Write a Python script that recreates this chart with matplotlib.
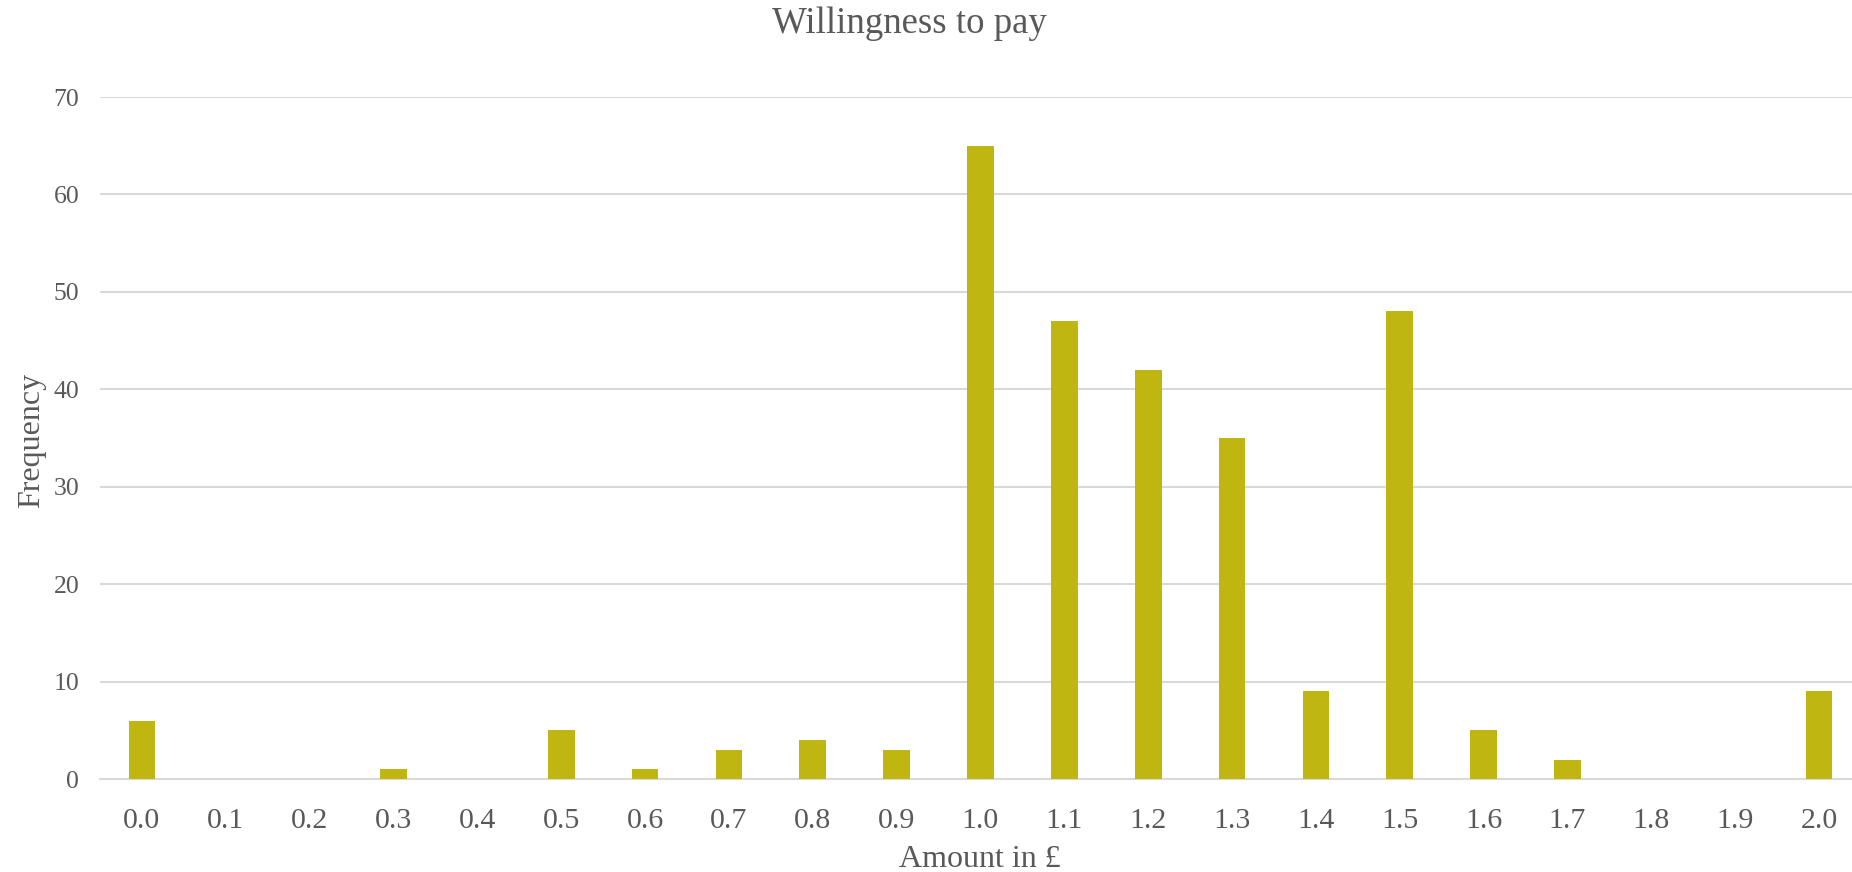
import numpy as np
import matplotlib.pyplot as plt

# Willingness to pay - frequency per amount in pounds
amounts = ['0.0', '0.1', '0.2', '0.3', '0.4', '0.5', '0.6', '0.7', '0.8', '0.9', '1.0',
           '1.1', '1.2', '1.3', '1.4', '1.5', '1.6', '1.7', '1.8', '1.9', '2.0']
frequency = [6, 0, 0, 1, 0, 5, 1, 3, 4, 3, 65, 47, 42, 35, 9, 48, 5, 2, 0, 0, 9]

txt = '#595959'
plt.rcParams['font.family'] = ['Liberation Serif', 'DejaVu Serif']

W, H = 1852, 872
fig = plt.figure(figsize=(W/100, H/100), dpi=100)
ax = fig.add_axes([100/W, (H-779)/H, 1761/W, (779-97)/H])

x = np.arange(len(amounts))
ax.bar(x, frequency, width=0.32, color='#BFB611', zorder=3)

ax.set_xlim(-0.5, len(amounts) - 0.5)
ax.set_ylim(0, 70)
ax.set_yticks(range(0, 71, 10))
ax.set_xticks(x)
ax.set_xticklabels(amounts)
ax.yaxis.grid(True, color='#D9D9D9', linewidth=1.5, zorder=0)
for s in ['top', 'right', 'left']:
    ax.spines[s].set_visible(False)
ax.spines['bottom'].set_color('#D9D9D9')
ax.spines['bottom'].set_linewidth(1.5)
ax.tick_params(axis='both', length=0, colors=txt)
ax.tick_params(axis='x', labelsize=21.5, pad=21)
ax.tick_params(axis='y', labelsize=18.5, pad=15)

fig.text(909 / W, 1 - 33 / H, 'Willingness to pay', ha='center', va='baseline',
         fontsize=26.5, color=txt)
fig.text(980 / W, 1 - 867 / H, 'Amount in £', ha='center', va='baseline',
         fontsize=23, color=txt)
fig.text(32 / W, 1 - 440 / H, 'Frequency', ha='center', va='center', rotation=90,
         fontsize=23, color=txt)

fig.savefig('out.png', dpi=100)
